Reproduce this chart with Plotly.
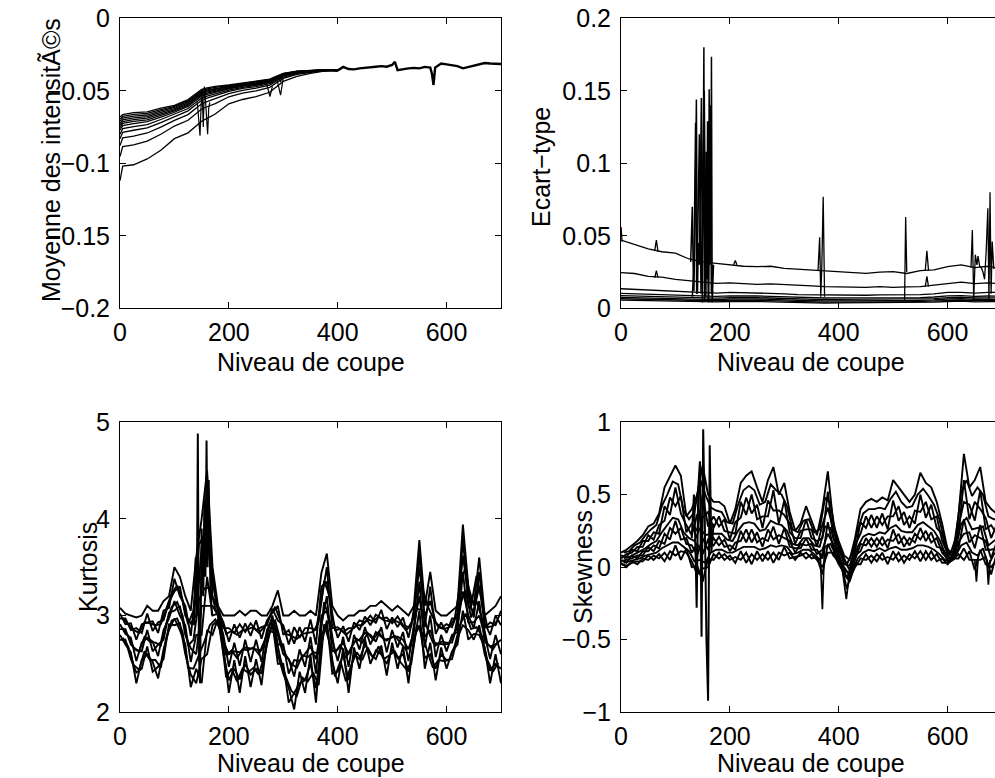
import plotly.graph_objects as go

# ======================= DATA =======================
# --- Panel 1 : Moyenne des intensités (head, where the curves fan out) ---
MEAN_HEAD_X = [0, 5, 25, 50, 75, 100, 125, 140, 150, 160, 175, 200, 225, 250, 275, 300, 325, 350, 375, 400]
MEAN_S1 = [-.0680, -.0665, -.0650, -.0645, -.0620, -.0600, -.0560, -.0520, -.0490, -.0480, -.0470, -.0460, -.0445, -.0435, -.0420, -.0380, -.0365, -.0360, -.0355, -.0360]
MEAN_S2 = [-.0695, -.0677, -.0662, -.0656, -.0630, -.0608, -.0568, -.0527, -.0497, -.0487, -.0476, -.0464, -.0449, -.0438, -.0423, -.0382, -.0366, -.0361, -.0355, -.0360]
MEAN_S3 = [-.0709, -.0688, -.0674, -.0667, -.0639, -.0615, -.0575, -.0535, -.0505, -.0494, -.0483, -.0469, -.0453, -.0442, -.0426, -.0384, -.0367, -.0361, -.0356, -.0360]
MEAN_S4 = [-.0724, -.0701, -.0686, -.0678, -.0649, -.0623, -.0583, -.0542, -.0512, -.0501, -.0489, -.0473, -.0457, -.0446, -.0429, -.0386, -.0369, -.0362, -.0356, -.0360]
MEAN_S5 = [-.0739, -.0713, -.0699, -.0689, -.0659, -.0631, -.0591, -.0550, -.0520, -.0508, -.0496, -.0478, -.0461, -.0449, -.0432, -.0387, -.0370, -.0363, -.0356, -.0360]
MEAN_S6 = [-.0755, -.0725, -.0711, -.0700, -.0669, -.0639, -.0599, -.0557, -.0527, -.0516, -.0502, -.0482, -.0465, -.0453, -.0435, -.0389, -.0371, -.0363, -.0357, -.0360]
MEAN_S7 = [-.0772, -.0740, -.0726, -.0713, -.0681, -.0648, -.0608, -.0566, -.0536, -.0524, -.0510, -.0487, -.0469, -.0457, -.0439, -.0392, -.0372, -.0364, -.0357, -.0360]
MEAN_S8 = [-.0799, -.0761, -.0747, -.0733, -.0698, -.0662, -.0622, -.0579, -.0549, -.0537, -.0521, -.0495, -.0476, -.0463, -.0444, -.0395, -.0375, -.0365, -.0358, -.0360]
MEAN_S9 = [-.0830, -.0786, -.0772, -.0756, -.0719, -.0678, -.0638, -.0595, -.0565, -.0551, -.0535, -.0504, -.0484, -.0471, -.0451, -.0399, -.0377, -.0367, -.0358, -.0360]
MEAN_S10 = [-.0878, -.0825, -.0812, -.0791, -.0751, -.0704, -.0664, -.0619, -.0589, -.0575, -.0556, -.0519, -.0497, -.0482, -.0461, -.0405, -.0381, -.0369, -.0360, -.0360]
MEAN_S11 = [-.0953, -.0885, -.0873, -.0847, -.0800, -.0743, -.0703, -.0656, -.0626, -.0610, -.0588, -.0541, -.0516, -.0500, -.0476, -.0414, -.0387, -.0372, -.0361, -.0360]
MEAN_S12 = [-.1120, -.1020, -.1010, -.0970, -.0910, -.0830, -.0790, -.0740, -.0710, -.0690, -.0660, -.0590, -.0560, -.0540, -.0510, -.0435, -.0400, -.0380, -.0365, -.0360]
# converged part (all curves overlap)
MEAN_TAIL_X = [400, 410, 420, 430, 440, 450, 460, 470, 480, 490, 500, 505, 510, 520, 530, 540, 550, 560, 570, 573, 576, 579,
               590, 600, 610, 620, 630, 640, 650, 660, 670, 680, 690, 700]
MEAN_TAIL_Y = [-.0360, -.0335, -.0350, -.0352, -.0345, -.0340, -.0334, -.0334, -.0330, -.0334, -.0322, -.0300, -.0357, -.0350,
               -.0345, -.0342, -.0345, -.0335, -.0340, -.0380, -.0460, -.0340, -.0312, -.0318, -.0322, -.0330, -.0345, -.0335,
               -.0325, -.0315, -.0308, -.0312, -.0312, -.0315]
MEAN_SPIKE_X = [142, 145, 147, 149, 151, 153, 155, 157, 159, 161, 163, 165]
MEAN_SPIKE_Y = [-.058, -.070, -.081, -.060, -.052, -.075, -.047, -.056, -.068, -.080, -.062, -.058]
MEAN_NOTCH_X = [270, 275.5, 280, None, 289, 295, 300, None, 272, 276, 280, None, 291, 295, 299]
MEAN_NOTCH_Y = [-.046, -.054, -.047, None, -.043, -.053, -.041, None, -.042, -.045, -.042, None, -.040, -.044, -.039]

# --- Panel 2 : Ecart-type ---
SD_X = [0, 25, 50, 75, 100, 125, 150, 175, 200, 225, 250, 275, 300, 325, 350, 375, 400, 425, 450, 475, 500, 525, 550, 575,
        600, 625, 650, 675, 700]
SD_S1 = [.047, .044, .041, .039, .038, .034, .032, .031, .030, .029, .0287, .029, .0276, .027, .0264, .026, .0253, .025, .0241,
         .025, .0253, .024, .026, .0265, .0287, .030, .028, .029, .027]
SD_S2 = [.0246, .024, .022, .0215, .020, .019, .018, .0172, .0175, .0172, .0165, .0168, .0165, .016, .0155, .015, .0149, .015,
         .0145, .015, .0145, .0148, .015, .016, .0172, .018, .017, .0175, .017]
SD_S3 = [.0135, .013, .0125, .012, .012, .0112, .011, .0105, .011, .0108, .0105, .0105, .010, .0095, .0093, .0092, .0093, .0092,
         .009, .0092, .0093, .0092, .0095, .010, .011, .011, .0105, .011, .011]
SD_S4 = [.0103, .010, .0097, .0093, .0092, .0088, .0085, .0082, .0086, .0088, .0085, .0082, .0078, .0074, .0072, .0071, .0072,
         .0072, .0071, .0072, .0073, .0072, .0074, .0078, .0086, .0088, .0082, .0085, .0083]
SD_S5 = [.0088, .0086, .0083, .008, .0078, .0075, .0072, .0070, .0074, .0076, .0074, .0071, .0067, .0063, .0061, .0060, .0061,
         .0062, .0061, .0062, .0062, .0061, .0063, .0067, .0074, .0076, .0071, .0073, .0072]
SD_S6 = [.0076, .0074, .0071, .0069, .0067, .0064, .0062, .006, .0064, .0066, .0064, .0061, .0057, .0054, .0052, .0051, .0052,
         .0053, .0052, .0053, .0053, .0052, .0054, .0058, .0064, .0066, .0061, .0063, .0062]
SD_S7 = [.0066, .0064, .0062, .006, .0058, .0055, .0053, .0052, .0055, .0057, .0055, .0053, .0049, .0046, .0044, .0043, .0044,
         .0045, .0044, .0045, .0045, .0044, .0046, .005, .0055, .0057, .0053, .0055, .0054]
SD_S8 = [.0057, .0055, .0053, .0051, .0049, .0047, .0045, .0044, .0047, .0049, .0047, .0045, .0042, .0039, .0037, .0036, .0037,
         .0038, .0037, .0038, .0038, .0037, .0039, .0043, .0047, .0049, .0045, .0047, .0046]
SD_SPIKE_X = [128, 131, 132.5, 134, 136, 138.5, 140.5, 142, 144, 146, 147.7, 149.5, 151, 152.3, 153.5, 155, 156.3, 157.5, 159,
              160.5, 162, 163.5, 165, 166.2, 167.5, 170]
SD_SPIKE_Y = [.032, .070, .030, .012, .060, .144, .010, .045, .030, .080, .145, .004, .100, .180, .006, .060, .108, .020, .129,
              .005, .151, .030, .060, .1735, .004, .030]
SD_SPIKE2_X = [131, 134, 137, 139, 141, 144, 147, 150, 153, 156, 158, 161, 164, 166, 169]
SD_SPIKE2_Y = [.008, .030, .128, .010, .050, .120, .010, .060, .150, .008, .090, .004, .140, .010, .012]
SD_PEAK_X = [0, 2, None, 62, 65, 68, None, 62, 65, 68, None, 207, 210, 213, None, 362, 365, 367, 369, 371.5, 374, None,
             521, 523, 525, None, 559, 562, 565, None, 559, 562, 565, None,
             643, 645.5, 648, 651, 654, 656, 659, 662, 665, 668, 671, 674, 676, 678, 680, 682, 685]
SD_PEAK_Y = [.056, .046, None, .040, .047, .039, None, .021, .026, .021, None, .030, .033, .030, None, .026, .049, .008, .030,
             .077, .008, None, .005, .063, .025, None, .026, .0397, .026, None, .015, .022, .015, None,
             .028, .054, .006, .037, .030, .036, .029, .028, .025, .020, .040, .069, .005, .080, .010, .046, .027]

# --- Panels 3 & 4 : sampling of the cut level (two interleaved grids) ---
KS_X = list(range(0, 701, 10))
KS_X2 = list(range(5, 700, 10))

# --- Panel 3 : Kurtosis ---
KURT_S1 = [3.08, 3.02, 3.00, 2.98, 3.00, 3.10, 3.05, 3.05, 3.15, 3.20,
           3.50, 3.40, 3.20, 3.05, 3.60, 4.00, 4.50, 3.50, 3.10, 3.00,
           3.00, 3.00, 3.05, 3.00, 3.05, 3.05, 3.00, 3.00, 3.10, 3.26,
           3.00, 3.00, 3.05, 3.00, 3.00, 3.05, 3.00, 3.44, 3.64, 3.10,
           3.00, 2.95, 3.00, 3.00, 3.05, 3.05, 3.10, 3.10, 3.15, 3.10,
           3.05, 3.10, 3.05, 3.00, 3.10, 3.78, 3.10, 3.45, 3.05, 3.00,
           3.00, 3.05, 3.10, 3.94, 3.30, 3.10, 3.60, 3.00, 3.05, 3.10, 3.20]
KURT_S2 = [3.02, 2.91, 2.92, 2.75, 2.91, 2.93, 2.94, 2.82, 3.05, 3.08,
           3.38, 3.20, 3.10, 2.79, 3.30, 3.40, 4.20, 3.20, 3.07, 2.87,
           2.87, 2.82, 2.91, 2.83, 2.92, 2.85, 2.88, 2.90, 3.07, 2.95,
           2.90, 2.70, 2.88, 2.77, 2.87, 2.87, 2.85, 3.15, 3.50, 2.87,
           2.88, 2.83, 2.87, 2.87, 2.95, 2.93, 3.00, 2.92, 3.06, 2.86,
           2.98, 2.88, 2.98, 2.77, 3.03, 3.50, 2.99, 3.15, 2.93, 2.87,
           2.91, 2.88, 3.03, 3.62, 3.20, 2.98, 3.45, 2.87, 2.93, 2.90, 3.05]
KURT_S3 = [2.97, 2.97, 2.85, 2.87, 2.82, 3.02, 2.84, 2.93, 2.95, 3.14,
           3.25, 3.30, 3.00, 2.92, 3.00, 3.70, 3.80, 3.35, 3.05, 2.93,
           2.73, 2.91, 2.77, 2.92, 2.79, 2.95, 2.76, 2.95, 3.03, 3.10,
           2.80, 2.85, 2.71, 2.88, 2.73, 2.96, 2.70, 3.30, 3.35, 2.98,
           2.77, 2.89, 2.73, 2.93, 2.85, 2.99, 2.90, 3.01, 2.97, 2.98,
           2.92, 2.99, 2.90, 2.88, 2.97, 3.65, 2.88, 3.30, 2.81, 2.93,
           2.82, 2.97, 2.97, 3.80, 3.10, 3.04, 3.30, 2.93, 2.80, 3.00, 2.90]
KURT_S4 = [2.91, 2.81, 2.77, 2.53, 2.72, 2.77, 2.73, 2.58, 2.85, 2.97,
           3.15, 3.00, 2.90, 2.52, 2.80, 2.80, 3.40, 3.00, 3.02, 2.73,
           2.60, 2.63, 2.62, 2.67, 2.66, 2.65, 2.64, 2.80, 3.00, 2.70,
           2.70, 2.40, 2.54, 2.53, 2.60, 2.68, 2.55, 2.90, 3.20, 2.63,
           2.65, 2.72, 2.60, 2.73, 2.75, 2.82, 2.80, 2.73, 2.88, 2.62,
           2.85, 2.67, 2.83, 2.53, 2.90, 3.20, 2.78, 2.85, 2.69, 2.73,
           2.72, 2.72, 2.90, 3.25, 3.00, 2.87, 3.15, 2.73, 2.68, 2.70, 2.75]
KURT_S5 = [2.86, 2.86, 2.70, 2.64, 2.63, 2.85, 2.63, 2.70, 2.75, 3.03,
           3.05, 3.10, 2.80, 2.66, 2.60, 3.10, 3.10, 3.10, 3.00, 2.80,
           2.47, 2.72, 2.48, 2.75, 2.52, 2.75, 2.52, 2.85, 2.97, 2.80,
           2.60, 2.55, 2.37, 2.65, 2.47, 2.78, 2.40, 3.00, 3.05, 2.75,
           2.53, 2.78, 2.47, 2.80, 2.65, 2.88, 2.70, 2.83, 2.78, 2.74,
           2.78, 2.78, 2.75, 2.65, 2.83, 3.35, 2.67, 3.00, 2.57, 2.80,
           2.63, 2.80, 2.83, 3.45, 2.93, 2.93, 3.00, 2.80, 2.55, 2.80, 2.60]
KURT_S6 = [2.80, 2.70, 2.62, 2.30, 2.54, 2.60, 2.52, 2.35, 2.65, 2.85,
           2.97, 2.85, 2.70, 2.26, 2.45, 2.30, 2.85, 2.80, 2.97, 2.60,
           2.33, 2.45, 2.34, 2.50, 2.39, 2.45, 2.40, 2.70, 2.93, 2.50,
           2.50, 2.10, 2.20, 2.30, 2.33, 2.50, 2.25, 2.70, 2.95, 2.40,
           2.42, 2.60, 2.33, 2.60, 2.55, 2.70, 2.60, 2.55, 2.69, 2.38,
           2.72, 2.45, 2.68, 2.30, 2.77, 2.90, 2.56, 2.60, 2.45, 2.60,
           2.54, 2.55, 2.77, 2.90, 2.85, 2.75, 2.90, 2.60, 2.43, 2.50, 2.45]
KURT_S7 = [2.75, 2.75, 2.55, 2.41, 2.45, 2.68, 2.42, 2.47, 2.55, 2.91,
           2.90, 2.92, 2.60, 2.39, 2.30, 2.55, 2.60, 2.90, 2.95, 2.67,
           2.20, 2.54, 2.20, 2.58, 2.26, 2.55, 2.28, 2.75, 2.90, 2.60,
           2.40, 2.25, 2.03, 2.42, 2.20, 2.59, 2.10, 2.80, 2.90, 2.52,
           2.30, 2.66, 2.20, 2.67, 2.45, 2.76, 2.50, 2.64, 2.60, 2.50,
           2.65, 2.56, 2.60, 2.42, 2.70, 3.05, 2.45, 2.72, 2.33, 2.67,
           2.45, 2.63, 2.70, 3.05, 2.75, 2.81, 2.80, 2.67, 2.30, 2.60, 2.30]
# curves sampled on the offset grid KS_X2
KURT_S8 = [2.97, 2.91, 2.85, 2.82, 2.93, 2.92, 2.90, 2.91, 3.06, 3.23,
           3.31, 3.16, 2.91, 3.05, 3.73, 3.84, 3.68, 3.20, 2.99, 2.81,
           2.84, 2.80, 2.85, 2.86, 2.88, 2.82, 2.88, 2.99, 3.09, 2.94,
           2.81, 2.79, 2.76, 2.81, 2.82, 2.83, 2.93, 3.36, 3.20, 2.85,
           2.86, 2.80, 2.85, 2.90, 2.90, 2.96, 2.94, 2.99, 2.95, 2.94,
           2.95, 2.92, 2.85, 2.89, 3.25, 3.30, 3.10, 2.98, 2.88, 2.86,
           2.88, 2.97, 3.33, 3.50, 3.10, 3.41, 3.15, 2.88, 2.89, 2.96]
KURT_S9 = [2.87, 2.79, 2.67, 2.63, 2.78, 2.73, 2.72, 2.69, 2.92, 3.09,
           3.14, 3.00, 2.69, 2.75, 3.16, 3.28, 3.29, 3.08, 2.91, 2.59,
           2.64, 2.56, 2.65, 2.64, 2.67, 2.60, 2.73, 2.91, 2.95, 2.74,
           2.59, 2.50, 2.46, 2.59, 2.57, 2.62, 2.61, 3.14, 2.96, 2.61,
           2.70, 2.56, 2.67, 2.76, 2.72, 2.82, 2.75, 2.83, 2.75, 2.76,
           2.79, 2.72, 2.65, 2.69, 3.07, 3.06, 2.86, 2.72, 2.71, 2.70,
           2.71, 2.83, 3.12, 3.26, 2.98, 3.15, 2.97, 2.71, 2.65, 2.74]
KURT_S10 = [2.77, 2.68, 2.49, 2.44, 2.63, 2.54, 2.54, 2.46, 2.77, 2.95,
            2.97, 2.83, 2.46, 2.45, 2.59, 2.73, 2.90, 2.96, 2.84, 2.36,
            2.45, 2.32, 2.45, 2.41, 2.46, 2.39, 2.58, 2.84, 2.82, 2.55,
            2.36, 2.22, 2.17, 2.36, 2.32, 2.41, 2.28, 2.91, 2.72, 2.37,
            2.53, 2.32, 2.49, 2.62, 2.54, 2.67, 2.56, 2.68, 2.55, 2.59,
            2.63, 2.52, 2.45, 2.50, 2.89, 2.82, 2.62, 2.46, 2.54, 2.53,
            2.54, 2.69, 2.91, 3.02, 2.86, 2.88, 2.79, 2.54, 2.42, 2.51]
KURT_SPIKE_X = [136, 139, 141, 143, 145, 147, 150, 153, 155, 157, 159, 161, 163, 166, 169]
KURT_SPIKE_Y = [2.9, 3.6, 3.0, 4.88, 2.6, 2.3, 3.9, 3.2, 4.2, 3.4, 4.81, 3.5, 4.4, 3.3, 3.0]

# --- Panel 4 : Skewness ---
SKEW_S1 = [.10, .12, .15, .18, .22, .28, .30, .37, .55, .62,
           .70, .63, .35, .40, .50, .70, .50, .45, .45, .42,
           .30, .40, .58, .63, .66, .55, .45, .60, .69, .50,
           .58, .38, .25, .30, .42, .32, .22, .40, .66, .30,
           .18, .08, .05, .20, .40, .45, .47, .45, .48, .46,
           .60, .55, .50, .45, .50, .65, .58, .55, .45, .30,
           .12, .10, .35, .78, .55, .60, .69, .45, .40, .37, .37]
SKEW_S2 = [.08, .07, .12, .11, .18, .18, .24, .23, .42, .36,
           .55, .37, .29, .22, .36, .34, .38, .27, .35, .25,
           .24, .23, .45, .36, .50, .33, .35, .35, .53, .30,
           .46, .24, .20, .20, .33, .20, .18, .20, .52, .20,
           .14, .02, .01, .11, .31, .27, .36, .27, .37, .26,
           .46, .32, .38, .27, .39, .38, .45, .33, .35, .18,
           .10, .08, .28, .45, .43, .32, .53, .26, .29, .23, .30]
SKEW_S3 = [.06, .09, .10, .14, .14, .22, .19, .29, .32, .48,
           .42, .49, .24, .30, .25, .50, .28, .35, .28, .33,
           .19, .31, .34, .48, .37, .43, .27, .46, .39, .39,
           .36, .30, .16, .25, .26, .26, .14, .29, .41, .25,
           .11, .05, -.02, .15, .23, .35, .27, .35, .29, .35,
           .35, .42, .29, .35, .30, .50, .34, .43, .27, .23,
           .08, .09, .22, .60, .33, .45, .40, .34, .20, .29, .25]
SKEW_S4 = [.05, .03, .08, .06, .11, .11, .15, .13, .23, .19,
           .32, .19, .20, .10, .16, .09, .19, .15, .21, .14,
           .15, .12, .25, .17, .26, .17, .20, .18, .28, .16,
           .27, .14, .13, .13, .20, .12, .12, .06, .31, .13,
           .08, -.02, -.04, .05, .16, .15, .20, .14, .21, .13,
           .26, .16, .21, .15, .23, .19, .25, .17, .20, .10,
           .06, .06, .17, .23, .24, .13, .29, .12, .12, .13, .20]
SKEW_S5 = [.04, .05, .06, .08, .08, .14, .11, .18, .16, .27,
           .23, .27, .16, .15, .08, .20, .12, .20, .15, .19,
           .11, .17, .18, .26, .17, .24, .14, .26, .19, .22,
           .20, .18, .10, .16, .15, .16, .09, .12, .23, .16,
           .06, .00, -.06, .08, .11, .20, .14, .20, .15, .19,
           .18, .23, .14, .20, .17, .27, .18, .24, .14, .13,
           .04, .07, .13, .33, .17, .22, .20, .18, .06, .17, .17]
SKEW_S6 = [.03, .00, .04, .02, .06, .05, .08, .06, .10, .05,
           .15, .05, .13, .00, .01, -.10, .06, .05, .10, .05,
           .08, .03, .11, .03, .09, .05, .09, .05, .10, .05,
           .14, .06, .07, .08, .10, .06, .07, -.05, .16, .08,
           .04, -.05, -.08, .00, .06, .05, .08, .04, .10, .02,
           .11, .04, .08, .05, .11, .04, .11, .05, .09, .03,
           .03, .05, .09, .05, .11, -.02, .12, .02, .00, .05, .13]
SKEW_S7 = [.02, .01, .03, .04, .04, .08, .05, .09, .04, .11,
           .08, .11, .10, .04, -.05, -.01, .00, .09, .06, .09,
           .05, .07, .05, .10, .02, .11, .04, .11, .03, .10,
           .08, .10, .05, .10, .06, .09, .05, .00, .10, .10,
           .02, -.04, -.10, .02, .02, .09, .03, .09, .05, .07,
           .05, .10, .03, .09, .06, .11, .05, .11, .04, .06,
           .02, .06, .06, .13, .05, .05, .05, .07, -.05, .09, .10]
# curves sampled on the offset grid KS_X2
SKEW_S8 = [.10, .11, .15, .17, .22, .26, .29, .42, .50, .59,
           .57, .39, .33, .38, .61, .50, .41, .39, .38, .31,
           .30, .43, .53, .56, .53, .43, .45, .57, .53, .50,
           .42, .26, .24, .32, .33, .24, .26, .48, .44, .21,
           .10, .02, .10, .26, .37, .40, .40, .41, .40, .47,
           .52, .45, .41, .42, .50, .54, .49, .43, .33, .17,
           .09, .20, .52, .60, .49, .55, .50, .35, .33, .33]
SKEW_S9 = [.06, .07, .09, .11, .13, .16, .18, .24, .29, .34,
           .33, .24, .20, .18, .27, .22, .23, .23, .23, .19,
           .18, .25, .30, .31, .30, .25, .26, .32, .30, .29,
           .25, .16, .15, .20, .20, .15, .14, .28, .27, .14,
           .04, -.08, .03, .14, .21, .23, .22, .24, .23, .27,
           .29, .25, .24, .24, .29, .31, .28, .25, .19, .10,
           .06, .13, .30, .34, .26, .27, .28, .15, .18, .21]
SKEW_S10 = [.03, .04, .05, .06, .08, .09, .10, .13, .15, .17,
            .17, .14, .11, .04, .05, .03, .10, .12, .12, .10,
            .10, .12, .14, .14, .14, .12, .13, .15, .14, .15,
            .14, .09, .10, .12, .12, .09, .05, .14, .16, .08,
            .01, -.15, -.02, .06, .10, .12, .11, .13, .11, .13,
            .14, .12, .12, .13, .15, .15, .14, .12, .09, .05,
            .04, .08, .15, .17, .10, .08, .13, .01, .09, .12]
SKEW_SPIKE_X = [130, 134, 137, 139, 142, 145, 148, 151, 154, 157, 160, 163, 166, 170]
SKEW_SPIKE_Y = [0.2, 0.5, 0.1, -0.28, 0.55, 0.73, -0.48, 0.95, 0.3, -0.5, -0.92, 0.84, 0.1, 0.3]
SKEW_DIP_X = [366, 370, 374, None, 406, 414, 421, None, 650, 653, 656, None, 672, 675, 678]
SKEW_DIP_Y = [0.10, -0.29, 0.15, None, 0.00, -0.22, 0.00, None, 0.05, -0.10, 0.05, None, 0.05, -0.12, 0.05]

X_TICKS = [0, 200, 400, 600]
MEAN_TICKS = [-0.2, -0.15, -0.1, -0.05, 0]
MEAN_TICKTEXT = ["\u22120.2", "\u22120.15", "\u22120.1", "\u22120.05", "0"]
SD_TICKS = [0, 0.05, 0.1, 0.15, 0.2]
SD_TICKTEXT = ["0", "0.05", "0.1", "0.15", "0.2"]
KURT_TICKS = [2, 3, 4, 5]
KURT_TICKTEXT = ["2", "3", "4", "5"]
SKEW_TICKS = [-1, -0.5, 0, 0.5, 1]
SKEW_TICKTEXT = ["\u22121", "\u22120.5", "0", "0.5", "1"]

# ======================= FIGURE =======================
FW, FH = 995, 778
FONT = "Liberation Sans, Arial, Helvetica, sans-serif"
FS = 25

fig = go.Figure()


def add_line(x, y, ax, width=1.0):
    fig.add_trace(go.Scatter(x=x, y=y, mode="lines", xaxis=ax[0], yaxis=ax[1],
                             line=dict(color="black", width=width), hoverinfo="skip",
                             connectgaps=False, showlegend=False))


A1, A2, A3, A4 = ("x", "y"), ("x2", "y2"), ("x3", "y3"), ("x4", "y4")

for s in [MEAN_S1, MEAN_S2, MEAN_S3, MEAN_S4, MEAN_S5, MEAN_S6, MEAN_S7, MEAN_S8, MEAN_S9, MEAN_S10, MEAN_S11, MEAN_S12]:
    add_line(MEAN_HEAD_X, s, A1, 1.3)
add_line(MEAN_TAIL_X, MEAN_TAIL_Y, A1, 2.4)
add_line(MEAN_SPIKE_X, MEAN_SPIKE_Y, A1, 1.2)
add_line(MEAN_NOTCH_X, MEAN_NOTCH_Y, A1, 1.2)

for s in [SD_S1, SD_S2, SD_S3, SD_S4, SD_S5, SD_S6, SD_S7, SD_S8]:
    add_line(SD_X, s, A2, 1.3)
add_line(SD_SPIKE_X, SD_SPIKE_Y, A2, 1.5)
add_line(SD_SPIKE2_X, SD_SPIKE2_Y, A2, 1.5)
add_line(SD_PEAK_X, SD_PEAK_Y, A2, 1.3)

for s in [KURT_S1, KURT_S2, KURT_S3, KURT_S4, KURT_S5, KURT_S6, KURT_S7]:
    add_line(KS_X, s, A3, 1.9)
for s in [KURT_S8, KURT_S9, KURT_S10]:
    add_line(KS_X2, s, A3, 1.9)
add_line(KURT_SPIKE_X, KURT_SPIKE_Y, A3, 2.0)

for s in [SKEW_S1, SKEW_S2, SKEW_S3, SKEW_S4, SKEW_S5, SKEW_S6, SKEW_S7]:
    add_line(KS_X, s, A4, 1.9)
for s in [SKEW_S8, SKEW_S9, SKEW_S10]:
    add_line(KS_X2, s, A4, 1.9)
add_line(SKEW_SPIKE_X, SKEW_SPIKE_Y, A4, 2.0)
add_line(SKEW_DIP_X, SKEW_DIP_Y, A4, 1.7)

# pixel geometry (window pixels) of the four axes boxes
L_X0, L_X1 = 120, 501
R_X0 = 621
R_XFULL = 1002  # right axes run past the window edge
T_Y0, T_Y1 = 18.3, 308.3
B_Y0, B_Y1 = 422.0, 712.3


def fx(px):
    return px / FW


def fy(py):
    return 1 - py / FH


dom_lx = [fx(L_X0), fx(L_X1)]
dom_rx = [fx(R_X0), 1.0]
dom_ty = [fy(T_Y1), fy(T_Y0)]
dom_by = [fy(B_Y1), fy(B_Y0)]
right_max = 700 * (FW - R_X0) / (R_XFULL - R_X0)

tickfont = dict(family=FONT, size=FS, color="black")


def xax(domain, anchor, rng):
    return dict(domain=domain, anchor=anchor, range=rng, tickvals=X_TICKS, ticktext=[str(v) for v in X_TICKS],
                ticks="inside", ticklen=6, tickwidth=1, tickcolor="black", showline=True, linecolor="black",
                linewidth=1, mirror="ticks", showgrid=False, zeroline=False, tickfont=tickfont,
                ticklabelstandoff=2, ticklabeloverflow="allow", automargin=False, fixedrange=True)


def yax(domain, anchor, rng, tv, tt, mirror):
    return dict(domain=domain, anchor=anchor, range=rng, tickvals=tv, ticktext=tt,
                ticks="inside", ticklen=6, tickwidth=1, tickcolor="black", showline=True, linecolor="black",
                linewidth=1, mirror=mirror, showgrid=False, zeroline=False, tickfont=tickfont,
                ticklabelstandoff=4, ticklabeloverflow="allow", automargin=False, fixedrange=True)


fig.update_layout(
    template="none",
    width=FW, height=FH,
    margin=dict(l=0, r=0, t=0, b=0, pad=0),
    paper_bgcolor="white", plot_bgcolor="white",
    showlegend=False,
    hovermode=False,
    xaxis=xax(dom_lx, "y", [0, 700]),
    yaxis=yax(dom_ty, "x", [-0.2, 0], MEAN_TICKS, MEAN_TICKTEXT, "ticks"),
    xaxis2=xax(dom_rx, "y2", [0, right_max]),
    yaxis2=yax(dom_ty, "x2", [0, 0.2], SD_TICKS, SD_TICKTEXT, False),
    xaxis3=xax(dom_lx, "y3", [0, 700]),
    yaxis3=yax(dom_by, "x3", [2, 5], KURT_TICKS, KURT_TICKTEXT, "ticks"),
    xaxis4=xax(dom_rx, "y4", [0, right_max]),
    yaxis4=yax(dom_by, "x4", [-1, 1], SKEW_TICKS, SKEW_TICKTEXT, False),
)


def label(text, px, py, angle=0):
    fig.add_annotation(text=text, xref="paper", yref="paper", x=fx(px), y=fy(py),
                       xanchor="center", yanchor="middle", showarrow=False, textangle=angle,
                       font=dict(family=FONT, size=FS, color="black"))


label("Moyenne des intensitÃ©s", 51, 160, -90)
label("Ecart\u2212type", 541, 167, -90)
label("Kurtosis", 88, 567, -90)
label("Skewness", 583, 567, -90)
label("Niveau de coupe", 310.5, 362, 0)
label("Niveau de coupe", 811, 362, 0)
label("Niveau de coupe", 310.5, 763, 0)
label("Niveau de coupe", 811, 763, 0)

fig.write_html("out.html", config={"displayModeBar": False, "staticPlot": True},
               post_script="document.body.style.margin='0';document.body.style.overflow='hidden';")
